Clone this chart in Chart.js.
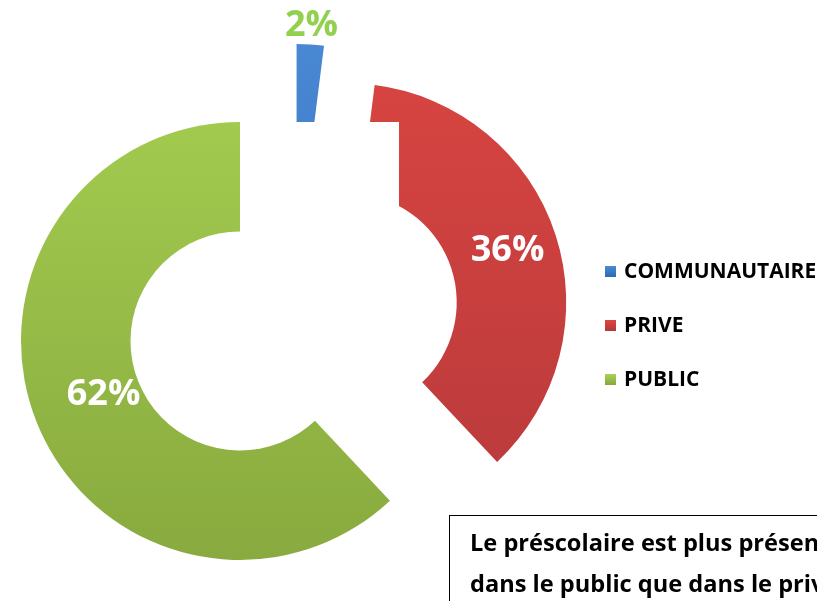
<!DOCTYPE html>
<html>
<head>
<meta charset="utf-8">
<script src="https://cdn.jsdelivr.net/npm/chart.js@4.4.0/dist/chart.umd.min.js"></script>
<style>
  html, body { margin: 0; padding: 0; background: #fff; overflow: hidden; }
  #wrap { position: relative; width: 817px; height: 601px; overflow: hidden; }
  #pie { position: absolute; left: 0; top: 0; }
  .mask { position: absolute; left: 242px; top: 122px; width: 157px; height: 120px; background: #fff; }
  #legend { position: absolute; left: 605px; top: 243px; font: bold 21px "Open Sans", sans-serif; color: #000; }
  #legend div { height: 54px; line-height: 54px; white-space: nowrap; }
  #legend span { display: inline-block; width: 11px; height: 11px; margin-right: 8px; vertical-align: 1px; }
  .note { position: absolute; left: 449px; top: 515px; width: 520px; height: 160px; border: 1.5px solid #000;
          padding: 6px 0 0 20px; font: bold 23.6px/41px "Open Sans", sans-serif; color: #000; box-sizing: border-box; }
</style>
</head>
<body>
<div id="wrap">
  <canvas id="pie" width="817" height="601"></canvas>
  <div class="mask"></div>
  <div id="legend"></div>
  <div class="note">Le préscolaire est plus présent<br>dans le public que dans le privé</div>
</div>
<script>
const categories = ['COMMUNAUTAIRE', 'PRIVE', 'PUBLIC'];
const shares = [2, 36, 62];
const labels = ['2%', '36%', '62%'];

const topColors = ['#4b8ad6', '#dc4642', '#a9d353'];
const bottomColors = ['#2f69b3', '#b3383a', '#86a73d'];
const labelColors = ['#92d050', '#ffffff', '#ffffff'];

// legend
const legend = document.getElementById('legend');
categories.forEach((name, i) => {
  const row = document.createElement('div');
  const box = document.createElement('span');
  box.style.background = `linear-gradient(${topColors[i]}, ${bottomColors[i]})`;
  row.appendChild(box);
  row.appendChild(document.createTextNode(name));
  legend.appendChild(row);
});

function sliceFill(c) {
  const i = c.dataIndex;
  const area = c.chart.chartArea;
  if (!area || i === undefined) return topColors[i || 0];
  const g = c.chart.ctx.createLinearGradient(0, area.top - 40, 0, area.bottom);
  g.addColorStop(0, topColors[i]);
  g.addColorStop(1, bottomColors[i]);
  return g;
}

// pull every slice out along its bisector, keeping the same radii (excel style explode)
const explode = {
  id: 'explode',
  afterDatasetUpdate(chart, args, opts) {
    args.meta.data.forEach(arc => {
      const half = (arc.startAngle + arc.endAngle) / 2;
      arc.x += Math.cos(half) * opts.distance;
      arc.y += Math.sin(half) * opts.distance;
    });
  }
};

// percent labels
const sliceLabels = {
  id: 'sliceLabels',
  afterDatasetsDraw(chart, args, opts) {
    const ctx = chart.ctx;
    chart.getDatasetMeta(0).data.forEach((arc, i) => {
      const half = (arc.startAngle + arc.endAngle) / 2;
      const r = arc.outerRadius * opts.radius[i];
      ctx.save();
      ctx.font = 'bold 36px "Open Sans", sans-serif';
      ctx.fillStyle = labelColors[i];
      ctx.textAlign = 'center';
      ctx.textBaseline = 'middle';
      ctx.fillText(labels[i], arc.x + Math.cos(half) * r, arc.y + Math.sin(half) * r);
      ctx.restore();
    });
  }
};

new Chart(document.getElementById('pie').getContext('2d'), {
  type: 'doughnut',
  data: {
    labels: categories,
    datasets: [{
      data: shares,
      backgroundColor: sliceFill,
      borderWidth: 0,
      hoverOffset: 0,
      radius: 219,
      cutout: '50%'
    }]
  },
  options: {
    responsive: false,
    animation: false,
    layout: { padding: { left: 0, right: 231, top: 39, bottom: 0 } },
    plugins: {
      legend: { display: false },
      tooltip: { enabled: false },
      explode: { distance: 57 },
      sliceLabels: { radius: [1.085, 0.77, 0.67] }
    }
  },
  plugins: [explode, sliceLabels]
});
</script>
</body>
</html>
